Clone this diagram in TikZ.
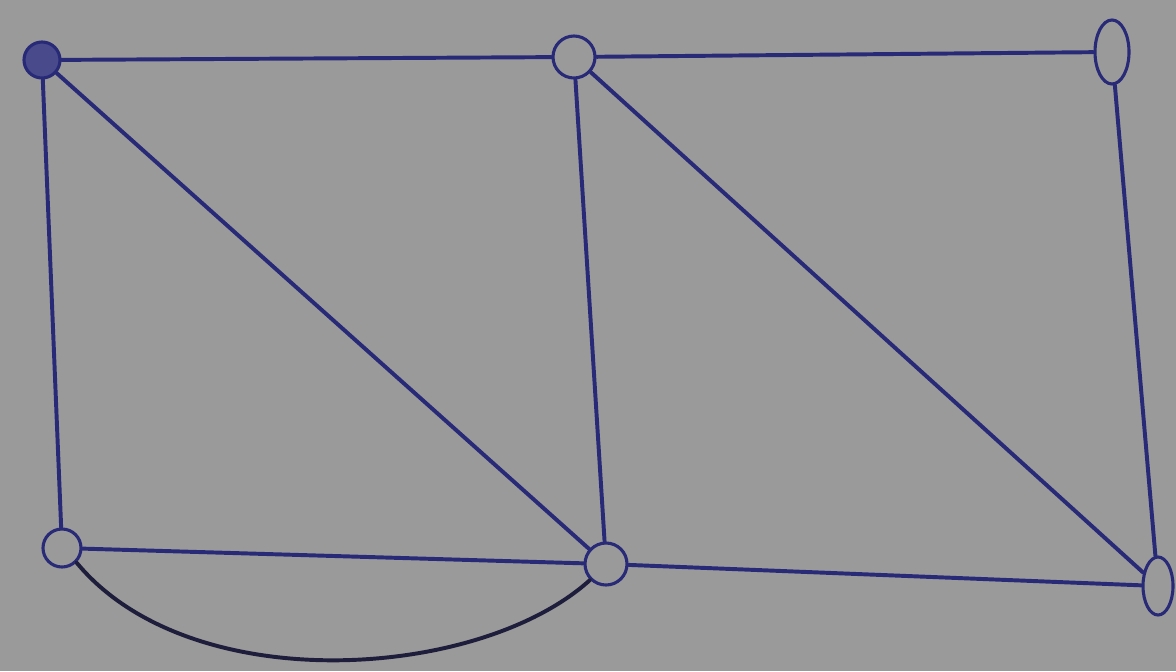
\documentclass[tikz,border=0pt]{standalone}
\usepackage{xcolor}
\usetikzlibrary{shapes.geometric}

\definecolor{paper}{RGB}{154,154,154}
\definecolor{ink}{RGB}{40,42,120}
\definecolor{darkink}{RGB}{30,30,60}

\begin{document}
\begin{tikzpicture}[
    x=0.025cm, y=-0.025cm,
    vertex/.style={circle, draw=ink, line width=2.2pt, minimum size=1.05cm, inner sep=0pt},
    oval/.style={ellipse, draw=ink, line width=2.2pt, minimum width=0.85cm, minimum height=1.6cm, inner sep=0pt},
    edge/.style={draw=ink, line width=2.8pt, line cap=round}
]
    % Paper
    \fill[paper] (0,0) rectangle (1176,671);
    \useasboundingbox (0,0) rectangle (1176,671);

    % Vertices
    \node[vertex, fill=ink!85, minimum size=0.9cm] (tl) at (42,60) {};
    \node[vertex] (tm) at (574,57) {};
    \node[oval] (tr) at (1112,52) {};
    \node[vertex, minimum size=0.95cm] (bl) at (62,548) {};
    \node[vertex] (bm) at (606,564) {};
    \node[oval, minimum width=0.75cm, minimum height=1.45cm] (br) at (1158,586) {};

    % Edges
    \draw[edge] (tl) -- (tm);
    \draw[edge] (tm) -- (tr);
    \draw[edge] (tl) -- (bl);
    \draw[edge] (tl) -- (bm);
    \draw[edge] (tm) -- (bm);
    \draw[edge] (tm) -- (br);
    \draw[edge] (tr) -- (br);
    \draw[edge] (bl) -- (bm);
    \draw[edge] (bm) -- (br);

    % Curved edge below
    \draw[edge, draw=darkink] (bl.south east) .. controls (190,700) and (480,680) .. (bm.south west);
\end{tikzpicture}
\end{document}
